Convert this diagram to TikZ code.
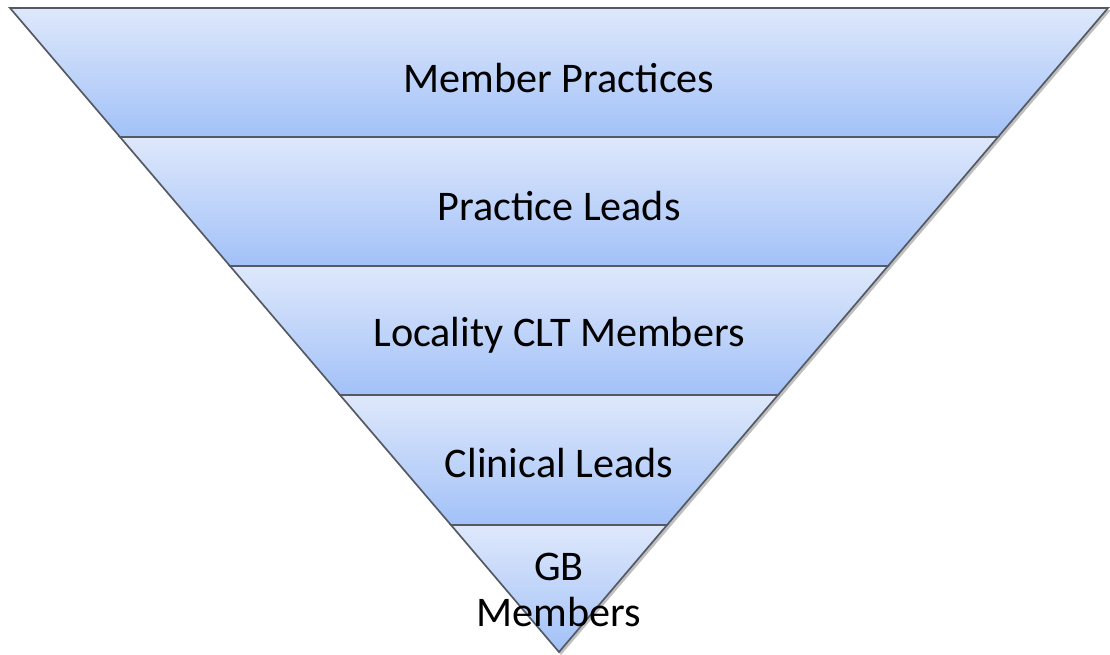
\documentclass[tikz,border=0pt]{standalone}
\usepackage{fontspec}
\setmainfont{Carlito}

\tikzset{
	band/.style={top color=bandtop, bottom color=bandbot, draw=bandline, line width=1.2pt},
	label/.style={align=center, font=\fontsize{30}{33}\selectfont}
}
\definecolor{bandtop}{HTML}{DEE8FB}
\definecolor{bandbot}{HTML}{A2C1F8}
\definecolor{bandline}{HTML}{555A62}

\begin{document}
\begin{tikzpicture}[x=0.025cm, y=-0.025cm]
		\useasboundingbox (0, 0) rectangle (1110, 654);

		% shadow of the funnel
		\fill[black, opacity=0.25] (12, 10) -- (1111, 10) -- (561, 655) -- cycle;

		% the bands, top to bottom
		\shade[band] (10, 8) -- (1108, 8) -- (998, 137) -- (120, 137) -- cycle;
		\shade[band] (120, 137) -- (998, 137) -- (888, 266) -- (230, 266) -- cycle;
		\shade[band] (230, 266) -- (888, 266) -- (778, 395) -- (340, 395) -- cycle;
		\shade[band] (340, 395) -- (778, 395) -- (667, 525) -- (451, 525) -- cycle;
		\shade[band] (451, 525) -- (667, 525) -- (559, 652) -- cycle;

		\node[label] (members) at (559, 78) {Member Practices};
		\node[label] (leads) at (559, 206) {Practice Leads};
		\node[label] (clt) at (559, 335) {Locality CLT Members};
		\node[label] (clinical) at (559, 463) {Clinical Leads};
		\node[label] (gb) at (559, 590) {GB\\Members};
	\end{tikzpicture}
\end{document}
